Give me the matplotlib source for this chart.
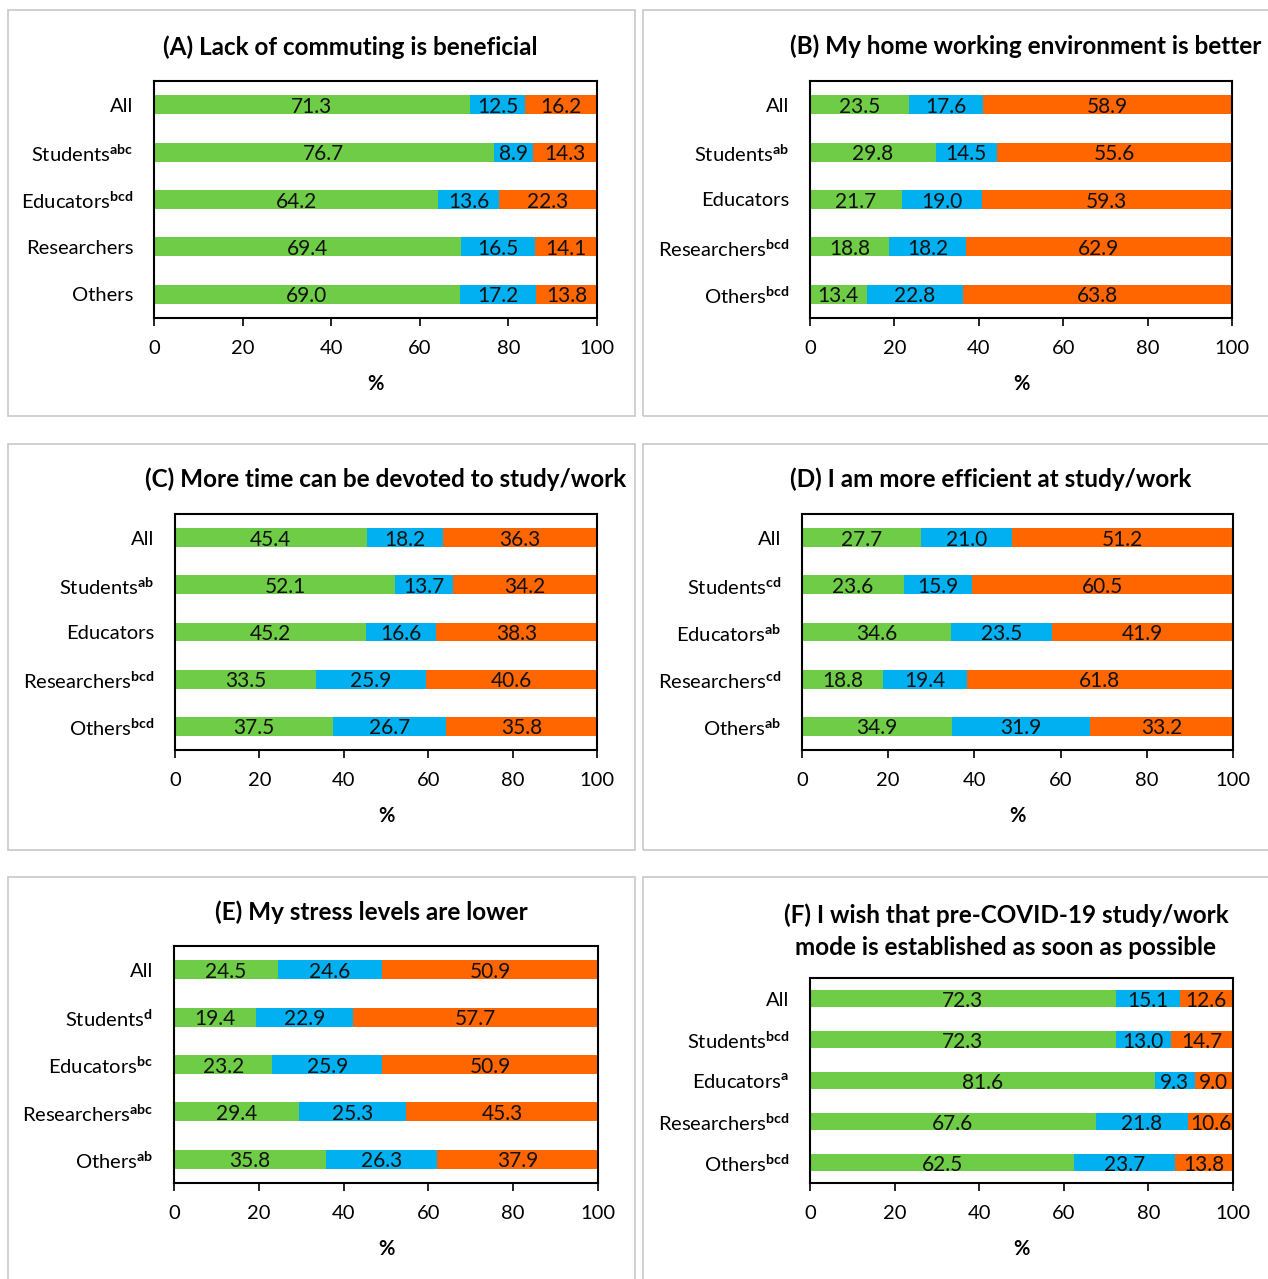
import matplotlib
matplotlib.use('Agg')
import matplotlib.pyplot as plt
from matplotlib.patches import Rectangle

plt.rcParams['font.family'] = ['Lato', 'DejaVu Sans']
plt.rcParams['mathtext.fontset'] = 'custom'
plt.rcParams['mathtext.rm'] = 'Lato'
plt.rcParams['mathtext.bf'] = 'Lato:bold'

# agree / neutral / disagree shares (%) per group
groups_a = ['All', 'Students$^{\\mathbf{abc}}$', 'Educators$^{\\mathbf{bcd}}$', 'Researchers', 'Others']
agree_a = [71.3, 76.7, 64.2, 69.4, 69.0]
neutral_a = [12.5, 8.9, 13.6, 16.5, 17.2]
disagree_a = [16.2, 14.3, 22.3, 14.1, 13.8]

groups_b = ['All', 'Students$^{\\mathbf{ab}}$', 'Educators', 'Researchers$^{\\mathbf{bcd}}$', 'Others$^{\\mathbf{bcd}}$']
agree_b = [23.5, 29.8, 21.7, 18.8, 13.4]
neutral_b = [17.6, 14.5, 19.0, 18.2, 22.8]
disagree_b = [58.9, 55.6, 59.3, 62.9, 63.8]

groups_c = ['All', 'Students$^{\\mathbf{ab}}$', 'Educators', 'Researchers$^{\\mathbf{bcd}}$', 'Others$^{\\mathbf{bcd}}$']
agree_c = [45.4, 52.1, 45.2, 33.5, 37.5]
neutral_c = [18.2, 13.7, 16.6, 25.9, 26.7]
disagree_c = [36.3, 34.2, 38.3, 40.6, 35.8]

groups_d = ['All', 'Students$^{\\mathbf{cd}}$', 'Educators$^{\\mathbf{ab}}$', 'Researchers$^{\\mathbf{cd}}$', 'Others$^{\\mathbf{ab}}$']
agree_d = [27.7, 23.6, 34.6, 18.8, 34.9]
neutral_d = [21.0, 15.9, 23.5, 19.4, 31.9]
disagree_d = [51.2, 60.5, 41.9, 61.8, 33.2]

groups_e = ['All', 'Students$^{\\mathbf{d}}$', 'Educators$^{\\mathbf{bc}}$', 'Researchers$^{\\mathbf{abc}}$', 'Others$^{\\mathbf{ab}}$']
agree_e = [24.5, 19.4, 23.2, 29.4, 35.8]
neutral_e = [24.6, 22.9, 25.9, 25.3, 26.3]
disagree_e = [50.9, 57.7, 50.9, 45.3, 37.9]

groups_f = ['All', 'Students$^{\\mathbf{bcd}}$', 'Educators$^{\\mathbf{a}}$', 'Researchers$^{\\mathbf{bcd}}$', 'Others$^{\\mathbf{bcd}}$']
agree_f = [72.3, 72.3, 81.6, 67.6, 62.5]
neutral_f = [15.1, 13.0, 9.3, 21.8, 23.7]
disagree_f = [12.6, 14.7, 9.0, 10.6, 13.8]

titles = ['(A) Lack of commuting is beneficial',
          '(B) My home working environment is better',
          '(C) More time can be devoted to study/work',
          '(D) I am more efficient at study/work',
          '(E) My stress levels are lower',
          '(F) I wish that pre-COVID-19 study/work\nmode is established as soon as possible']

col_green = '#6ECC46'
col_blue = '#00B0F0'
col_orange = '#FF6600'

W, H = 1268, 1279
fig = plt.figure(figsize=(W / 100, H / 100), dpi=100)

def rect(x0, y0, x1, y1):
    return [x0 / W, 1 - y1 / H, (x1 - x0) / W, (y1 - y0) / H]

# panel frames
for (x0, y0, x1, y1) in [(8, 10, 635, 416), (643, 10, 1280, 416),
                         (8, 444, 635, 850), (643, 444, 1280, 850),
                         (8, 877, 635, 1290), (643, 877, 1280, 1290)]:
    fig.patches.append(Rectangle((x0 / W, 1 - y1 / H), (x1 - x0) / W, (y1 - y0) / H,
                                 transform=fig.transFigure, fill=False,
                                 edgecolor='#C8C8C8', linewidth=1.2))

panels = [
    (groups_a, agree_a, neutral_a, disagree_a, (154, 81, 597, 318), (350, 47)),
    (groups_b, agree_b, neutral_b, disagree_b, (810, 81, 1232, 318), (1026, 46)),
    (groups_c, agree_c, neutral_c, disagree_c, (175, 514, 597, 750), (386, 479)),
    (groups_d, agree_d, neutral_d, disagree_d, (802, 514, 1233, 750), (991, 479)),
    (groups_e, agree_e, neutral_e, disagree_e, (174, 946, 598, 1183), (371, 912)),
    (groups_f, agree_f, neutral_f, disagree_f, (810, 978, 1233, 1183), (1006, 931)),
]

fs = 14.5
for i, (grp, ag, ne, di, box, tpos) in enumerate(panels):
    ax = fig.add_axes(rect(*box))
    y = list(range(len(grp)))
    left2 = [a + n for a, n in zip(ag, ne)]
    b1 = ax.barh(y, ag, height=0.4, color=col_green)
    b2 = ax.barh(y, ne, left=ag, height=0.4, color=col_blue)
    b3 = ax.barh(y, di, left=left2, height=0.4, color=col_orange)
    for bars in (b1, b2, b3):
        for t in ax.bar_label(bars, labels=['%.1f' % v for v in bars.datavalues],
                              label_type='center', fontsize=15, color='#111111'):
            t.set_y(-1.5)
    ax.set_xlim(0, 100)
    ax.set_ylim(4.5, -0.5)
    ax.set_yticks(y)
    ax.set_yticklabels(grp, fontsize=fs)
    ax.set_xticks([0, 20, 40, 60, 80, 100])
    ax.tick_params(axis='y', length=0, pad=15)
    ax.tick_params(axis='x', length=6, width=1.2, pad=10, labelsize=fs, direction='out')
    for s in ax.spines.values():
        s.set_linewidth(1.5)
    ax.set_xlabel('%', fontsize=fs, fontweight='bold', labelpad=12)
    fig.text(tpos[0] / W, 1 - tpos[1] / H, titles[i], ha='center', va='center',
             fontsize=17.5, fontweight='bold', linespacing=1.45)

fig.savefig('out.png', dpi=100)
